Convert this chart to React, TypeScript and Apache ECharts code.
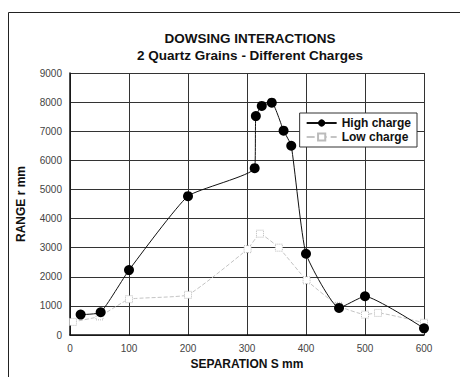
import React, { useEffect, useRef } from "react";
import * as echarts from "echarts";

const titleLines = ["DOWSING INTERACTIONS", "2 Quartz Grains - Different Charges"];
const xTicks = [0, 100, 200, 300, 400, 500, 600];
const yTicks = [0, 1000, 2000, 3000, 4000, 5000, 6000, 7000, 8000, 9000];
const highS = [18, 52, 100, 200, 313, 315, 325, 342, 362, 375, 400, 456, 500, 600];
const highR = [700, 780, 2230, 4770, 5730, 7520, 7870, 7980, 7020, 6500, 2790, 930, 1330, 230];
const lowS = [5, 50, 100, 200, 301, 322, 354, 401, 455, 500, 522, 600];
const lowR = [450, 640, 1230, 1380, 2950, 3480, 3000, 1880, 1000, 700, 760, 420];

const FONT = "'Liberation Sans Narrow', 'Liberation Sans', Arial, sans-serif";

export default function App() {
  const ref = useRef<HTMLDivElement>(null);
  useEffect(() => {
    const chart = echarts.init(ref.current!, undefined, { renderer: "svg" });
    chart.setOption({
      animation: false,
      backgroundColor: "#fff",
      title: {
        text: titleLines.join("\n"),
        left: 245,
        top: 25,
        textAlign: "center",
        textStyle: { fontFamily: FONT, fontSize: 13.5, fontWeight: "bold", color: "#111", lineHeight: 17 },
      },
      graphic: [
        {
          type: "rect",
          shape: { x: 8.5, y: 12.5, width: 470, height: 400 },
          style: { fill: "none", stroke: "#222", lineWidth: 1 },
          silent: true,
        },
      ],
      legend: {
        right: 43,
        top: 113,
        orient: "vertical",
        backgroundColor: "#fff",
        borderColor: "#333",
        borderWidth: 1,
        padding: [4, 6, 4, 6],
        itemGap: 2,
        itemWidth: 30,
        itemHeight: 9,
        textStyle: { fontFamily: FONT, fontSize: 12, fontWeight: "bold", color: "#111" },
        data: ["High charge", "Low charge"],
      },
      grid: { left: 70, top: 73, right: 36, bottom: 42 },
      xAxis: {
        type: "value",
        min: xTicks[0],
        max: xTicks[xTicks.length - 1],
        interval: 100,
        name: "SEPARATION S mm",
        nameLocation: "middle",
        nameGap: 23,
        nameTextStyle: { fontFamily: FONT, fontSize: 12, fontWeight: "bold", color: "#111" },
        axisLine: { lineStyle: { color: "#111", width: 1.5 } },
        axisTick: { show: false },
        axisLabel: { fontFamily: FONT, fontSize: 10, color: "#444", margin: 8 },
        splitLine: { show: true, lineStyle: { color: "#333", width: 1 } },
      },
      yAxis: {
        type: "value",
        min: yTicks[0],
        max: yTicks[yTicks.length - 1],
        interval: 1000,
        name: "RANGE r mm",
        nameLocation: "middle",
        nameGap: 43,
        nameTextStyle: { fontFamily: FONT, fontSize: 12, fontWeight: "bold", color: "#111" },
        axisLine: { show: true, lineStyle: { color: "#111", width: 1.5 } },
        axisTick: { show: false },
        axisLabel: { fontFamily: FONT, fontSize: 10, color: "#444", margin: 8, formatter: (v: number) => String(v) },
        splitLine: { show: true, lineStyle: { color: "#333", width: 1 } },
      },
      series: [
        {
          name: "Low charge",
          type: "line",
          data: lowS.map((s, i) => [s, lowR[i]]),
          smooth: 0.12,
          symbol: "rect",
          symbolSize: 7,
          showSymbol: true,
          clip: false,
          lineStyle: { color: "#c4c4c4", width: 1, type: "dashed" },
          itemStyle: { color: "#fff", borderColor: "#bbb", borderWidth: 1, borderType: "dotted" },
          z: 2,
        },
        {
          name: "High charge",
          type: "line",
          data: highS.map((s, i) => [s, highR[i]]),
          smooth: 0.15,
          symbol: "circle",
          symbolSize: 10,
          clip: false,
          lineStyle: { color: "#111", width: 1 },
          itemStyle: { color: "#000" },
          z: 3,
        },
      ],
    });
    return () => chart.dispose();
  }, []);
  return <div ref={ref} style={{ width: 460, height: 377, position: "absolute", left: 0, top: 0 }} />;
}
